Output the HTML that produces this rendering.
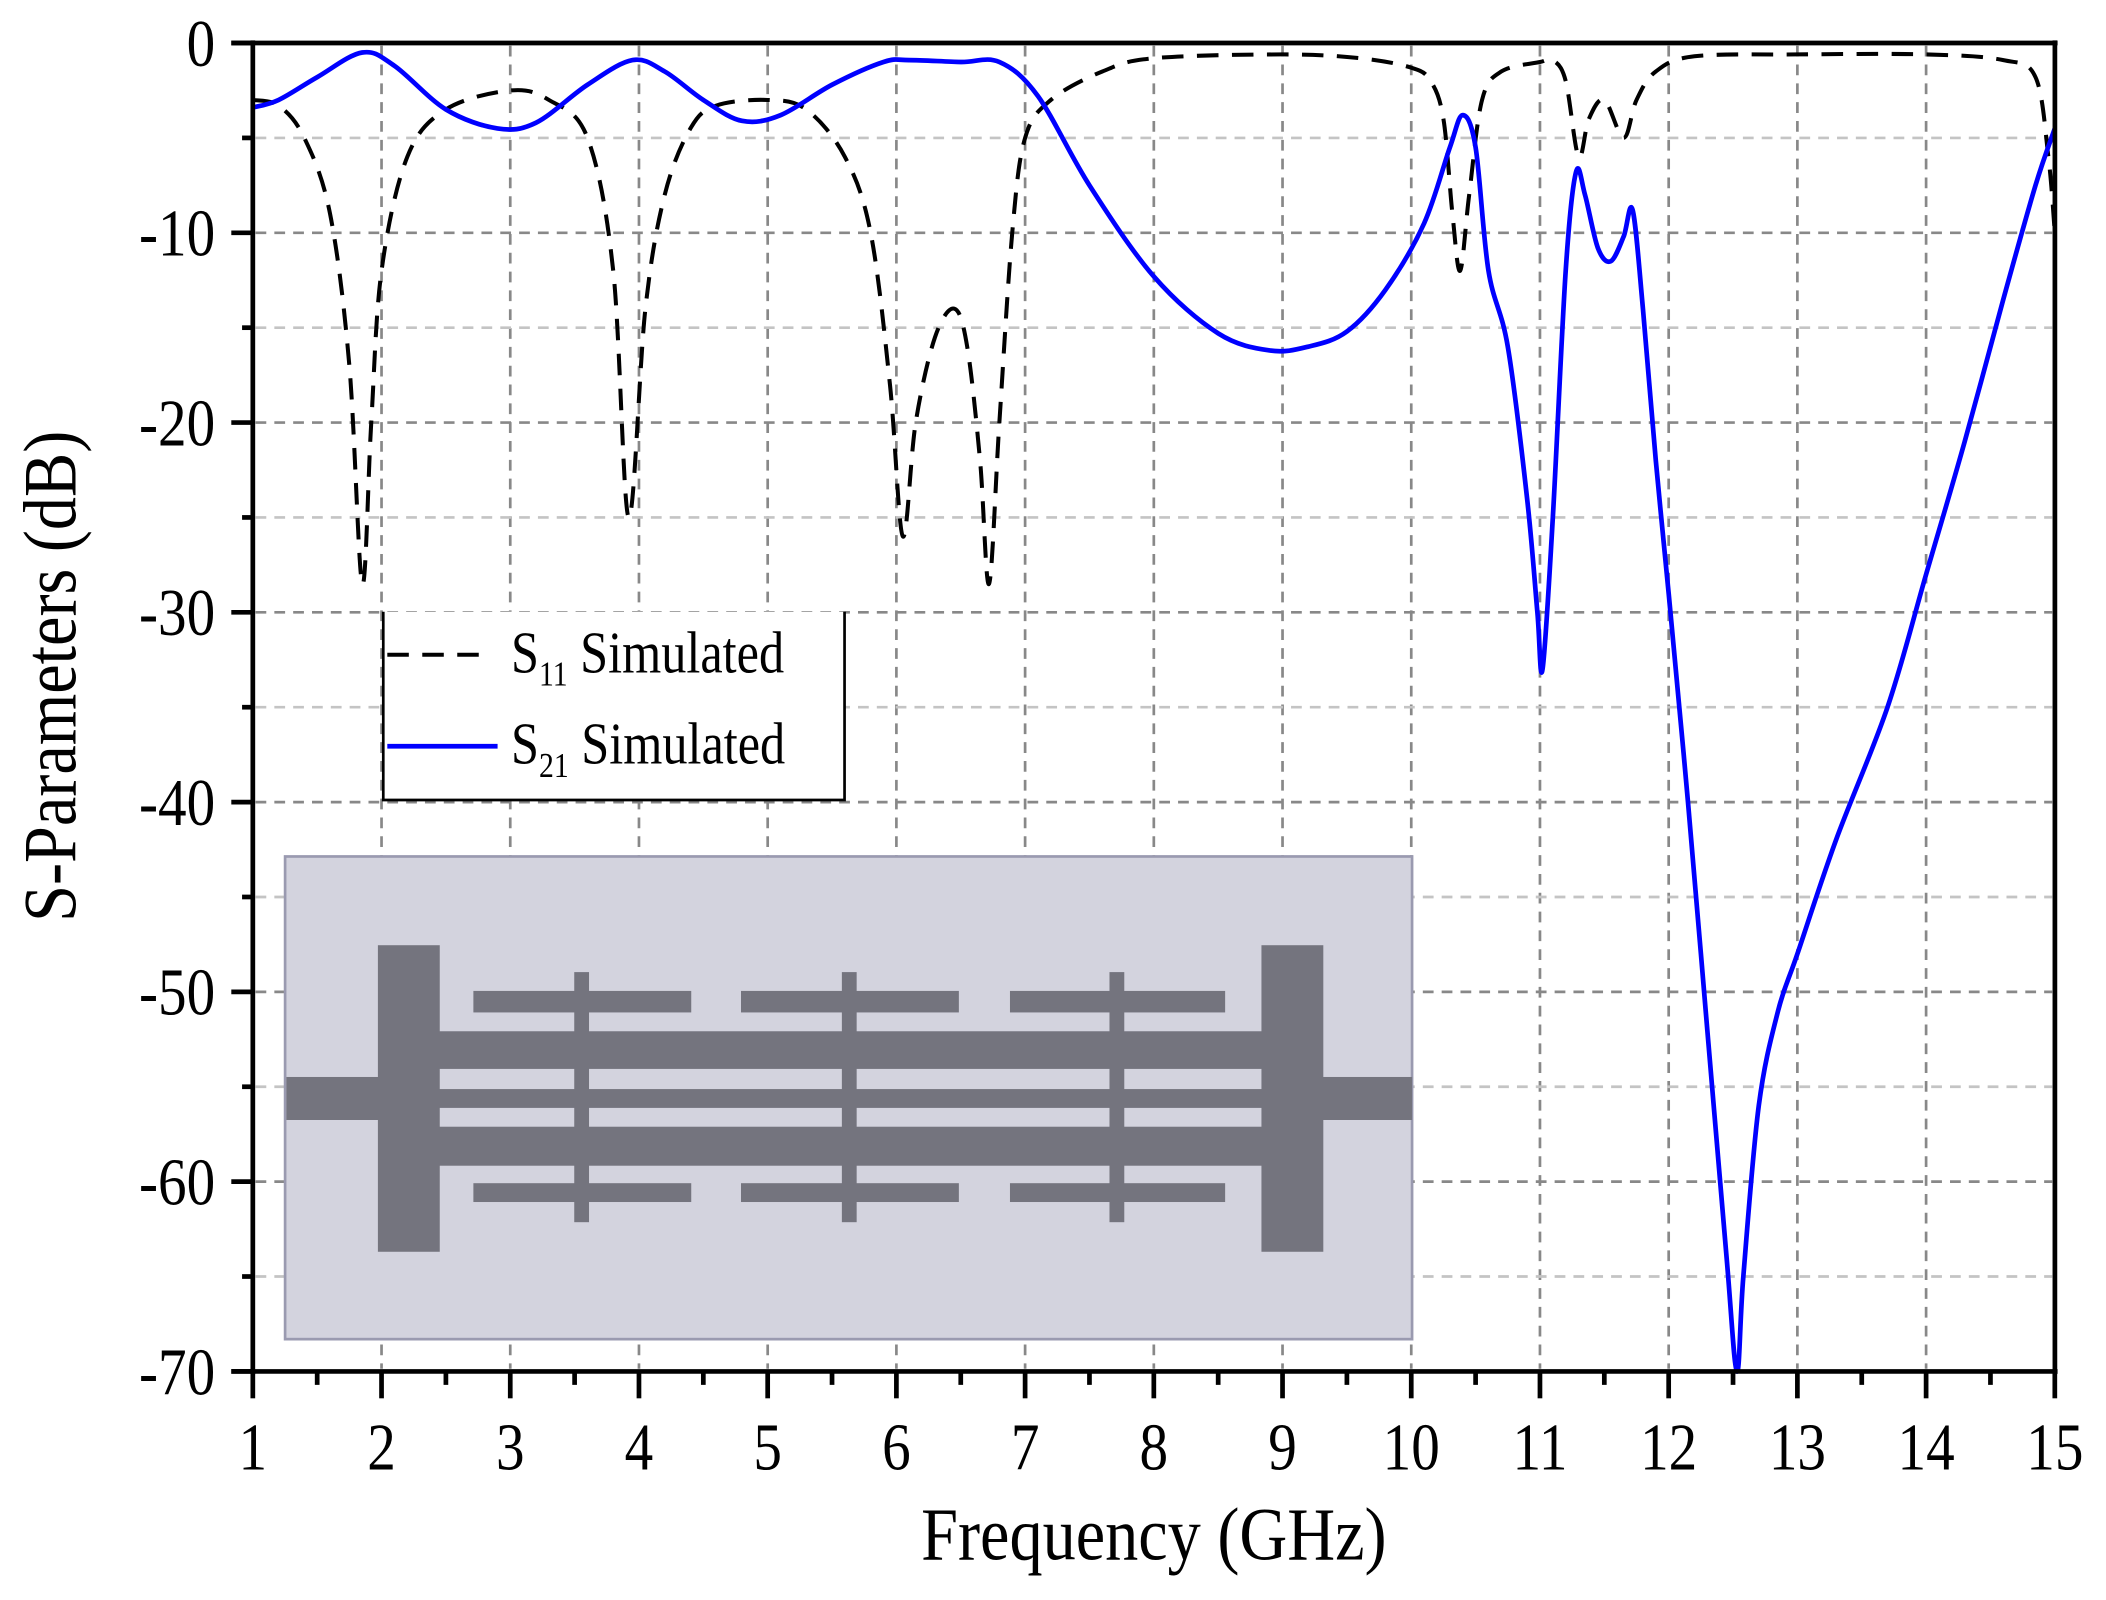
<!DOCTYPE html>
<html><head><meta charset="utf-8"><style>
html,body{margin:0;padding:0;background:#fff;}
svg{display:block;}
text{font-family:"Liberation Serif","DejaVu Serif",serif;fill:#000;}
</style></head><body>
<svg id="s" width="2106" height="1600" viewBox="0 0 1566 1190" preserveAspectRatio="none" xmlns="http://www.w3.org/2000/svg">
<g id="grid"></g>
<rect x="212" y="637" width="838" height="359" fill="#d3d3de" stroke="#9a9ab0" stroke-width="2"/>
<g fill="#74747e">
<rect x="213" y="801" width="70" height="32"/>
<rect x="982" y="801" width="68" height="32"/>
<rect x="281" y="703" width="46" height="228"/>
<rect x="938" y="703" width="46" height="228"/>
<rect x="326" y="767" width="613" height="28"/>
<rect x="326" y="810" width="613" height="14"/>
<rect x="326" y="838" width="613" height="29"/>
<rect x="352" y="737" width="162" height="16"/><rect x="551" y="737" width="162" height="16"/><rect x="751" y="737" width="160" height="16"/>
<rect x="352" y="880" width="162" height="14"/><rect x="551" y="880" width="162" height="14"/><rect x="751" y="880" width="160" height="14"/>
<rect x="427" y="723" width="11" height="186"/><rect x="626" y="723" width="11" height="186"/><rect x="825" y="723" width="11" height="186"/>
</g>
<path id="s11" fill="none" stroke="#000" stroke-width="3" stroke-dasharray="16,10"/>
<path id="s21" fill="none" stroke="#0000ff" stroke-width="3.5"/>
<g stroke="#000" stroke-width="3.5" fill="none">
<line x1="172" y1="32" x2="1530" y2="32"/>
<line x1="188" y1="30" x2="188" y2="1022"/>
<line x1="1528" y1="30" x2="1528" y2="1022"/>
<line x1="172" y1="1020" x2="1530" y2="1020"/>
</g>
<g id="ticks" stroke="#000" stroke-width="3.5"></g>
<g>
<rect x="285" y="455" width="343" height="140" fill="#fff" stroke="none"/>
<polyline points="285,455 285,595 628,595 628,455" fill="none" stroke="#000" stroke-width="2"/>
<line x1="288" y1="487" x2="356" y2="487" stroke="#000" stroke-width="3" stroke-dasharray="16,10"/>
<text transform="translate(380,500) scale(0.85,1)" font-size="44">S<tspan font-size="26" dy="10">11</tspan><tspan dy="-10"> Simulated</tspan></text>
<line x1="288" y1="555" x2="370" y2="555" stroke="#0000ff" stroke-width="3.5"/>
<text transform="translate(380,568) scale(0.85,1)" font-size="44">S<tspan font-size="26" dy="10">21</tspan><tspan dy="-10"> Simulated</tspan></text>
</g>
<g id="labels" font-size="50"></g>
<text transform="translate(858,1160) scale(0.88,1)" font-size="56" text-anchor="middle">Frequency (GHz)</text>
<text transform="translate(56,503) rotate(-90) scale(0.88,1)" font-size="56" text-anchor="middle">S-Parameters (dB)</text>
</svg>
<script>
var X=function(f){return 188+(f-1)*95.71;},Y=function(d){return 32-d*14.114;};
var ns="http://www.w3.org/2000/svg";
function el(p,t,a,txt){var e=document.createElementNS(ns,t);for(var k in a)e.setAttribute(k,a[k]);if(txt)e.textContent=txt;document.getElementById(p).appendChild(e);}
for(var f=2;f<=14;f++)el("grid","line",{x1:X(f),y1:34,x2:X(f),y2:1018,stroke:"#888",'stroke-width':2,'stroke-dasharray':"8,6"});
for(var d=-5;d>=-65;d-=5)el("grid","line",{x1:190,y1:Y(d),x2:1526,y2:Y(d),stroke:d%10==0?"#888":"#c4c4c4",'stroke-width':2,'stroke-dasharray':"8,6"});
for(var f=1;f<=15;f+=0.5){var mj=f%1==0;el("ticks","line",{x1:X(f),y1:1020,x2:X(f),y2:mj?1040:1030});}
for(var d=0;d>=-70;d-=5){var mj=d%10==0;el("ticks","line",{x1:188,y1:Y(d),x2:mj?172:180,y2:Y(d)});}
for(var f=1;f<=15;f++)el("labels","text",{transform:"translate("+X(f)+",1093) scale(0.85,1)",'text-anchor':"middle"},""+f);
for(var d=0;d>=-70;d-=10)el("labels","text",{transform:"translate(160,"+(Y(d)+17)+") scale(0.85,1)",'text-anchor':"end"},d==0?"0":""+d);
function path(pts){var p=pts.map(function(q){return[X(q[0]),Y(q[1])]});var s="M"+p[0][0]+","+p[0][1];
for(var i=0;i<p.length-1;i++){var p0=p[i-1]||p[i],p1=p[i],p2=p[i+1],p3=p[i+2]||p2;
s+="C"+(p1[0]+(p2[0]-p0[0])/6)+","+(p1[1]+(p2[1]-p0[1])/6)+" "+(p2[0]-(p3[0]-p1[0])/6)+","+(p2[1]-(p3[1]-p1[1])/6)+" "+p2[0]+","+p2[1];}return s;}
var s21=[[1,-3.4],[1.2,-3],[1.5,-1.8],[1.85,-0.5],[2.1,-1.2],[2.5,-3.5],[2.9,-4.5],[3.2,-4.2],[3.6,-2.2],[3.95,-0.9],[4.2,-1.5],[4.5,-3],[4.8,-4.1],[5.1,-3.8],[5.5,-2.2],[5.9,-1],[6.1,-0.9],[6.5,-1],[6.8,-1],[7.1,-2.8],[7.5,-7.5],[8,-12.3],[8.5,-15.3],[8.9,-16.2],[9.2,-16],[9.5,-15.2],[9.8,-13],[10.1,-9.5],[10.3,-5.5],[10.4,-3.8],[10.5,-5.5],[10.6,-12],[10.75,-16],[10.9,-24],[10.98,-30],[11.02,-33],[11.1,-25],[11.2,-12],[11.28,-6.8],[11.35,-8],[11.45,-10.8],[11.55,-11.5],[11.65,-10.2],[11.72,-8.8],[11.8,-14],[11.9,-22],[12.0,-29],[12.15,-40],[12.3,-52],[12.45,-64],[12.53,-70],[12.58,-65],[12.7,-56],[12.85,-51],[13.0,-48],[13.3,-42],[13.7,-35],[14.0,-28],[14.3,-21],[14.6,-13.5],[14.85,-7.5],[15,-4.5]];
var s11=[[1,-3],[1.2,-3.3],[1.4,-5],[1.6,-9],[1.75,-17],[1.85,-28.5],[1.92,-20],[2.0,-12],[2.2,-6],[2.5,-3.5],[3.0,-2.5],[3.3,-3],[3.6,-5],[3.8,-12],[3.92,-25],[4.05,-14],[4.2,-8],[4.4,-4.5],[4.6,-3.3],[5.0,-3],[5.3,-3.5],[5.6,-6],[5.8,-10],[5.95,-18],[6.05,-26],[6.15,-20],[6.3,-15.5],[6.45,-14],[6.55,-16],[6.65,-22],[6.72,-28.5],[6.8,-20],[6.9,-10],[7.0,-5],[7.2,-3],[7.6,-1.5],[8.0,-0.8],[9,-0.6],[9.6,-0.8],[10,-1.3],[10.15,-2],[10.25,-4],[10.32,-9],[10.38,-12],[10.45,-8],[10.55,-3],[10.7,-1.5],[11.0,-1],[11.1,-0.9],[11.2,-2],[11.3,-6],[11.38,-4],[11.5,-3],[11.65,-5],[11.75,-3],[11.9,-1.5],[12.2,-0.7],[13,-0.6],[14,-0.6],[14.6,-0.9],[14.85,-1.8],[14.95,-6],[15,-10]];
document.getElementById("s21").setAttribute("d",path(s21));
document.getElementById("s11").setAttribute("d",path(s11));
</script>
</body></html>
